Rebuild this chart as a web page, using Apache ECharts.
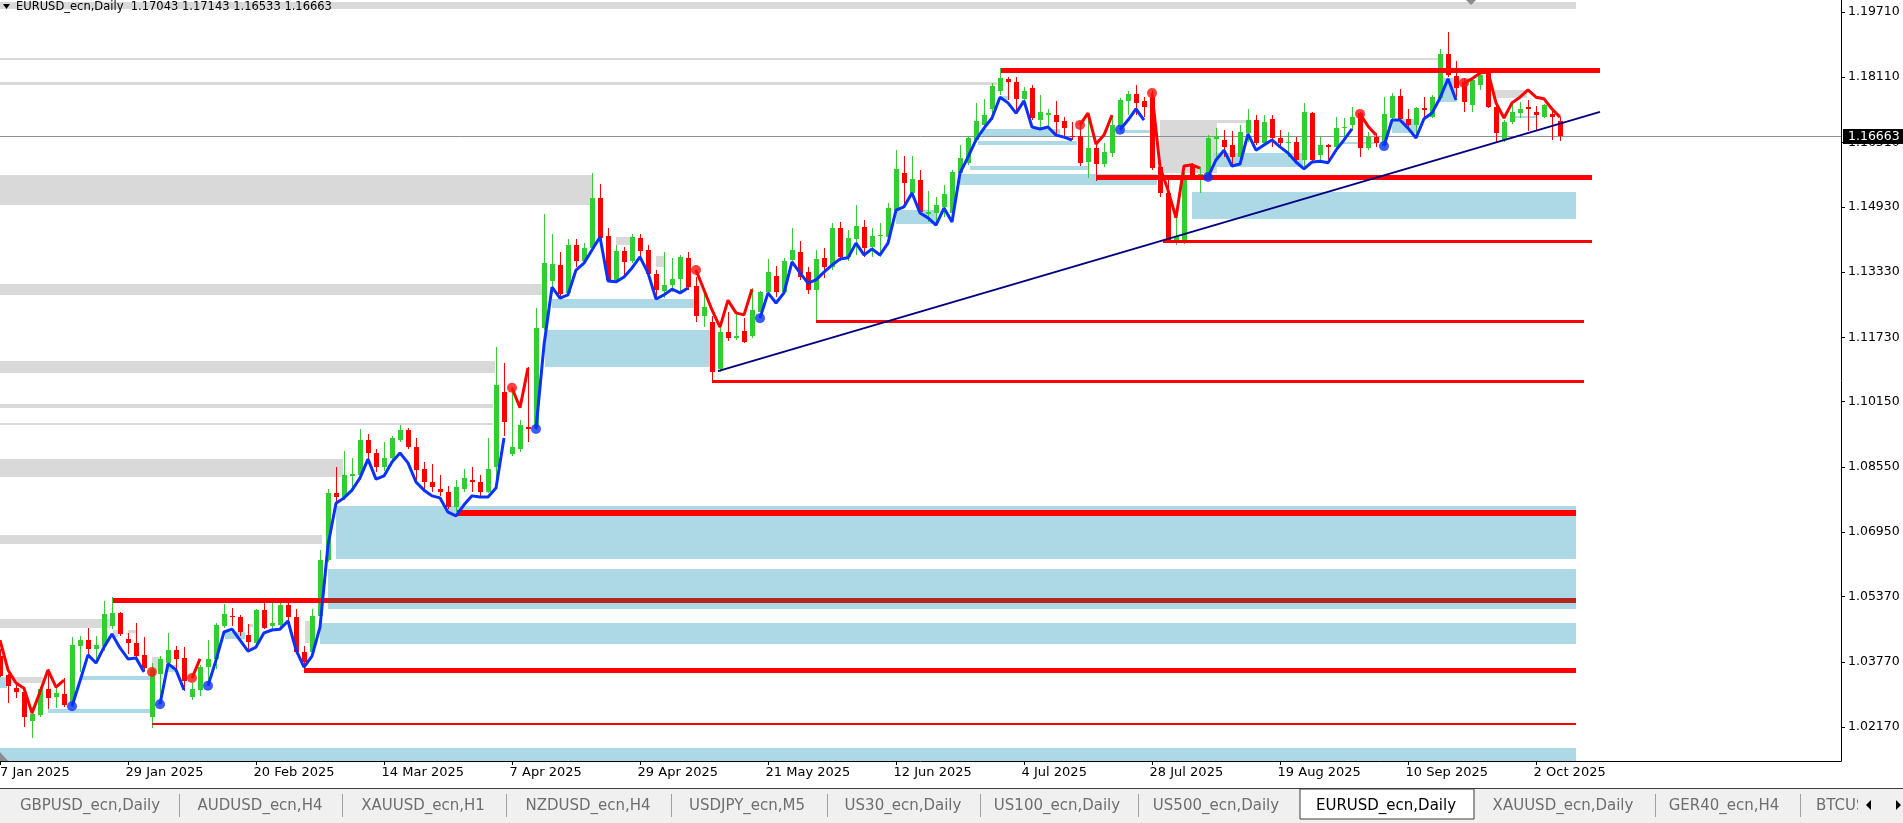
<!DOCTYPE html>
<html><head><meta charset="utf-8">
<script src="https://cdn.jsdelivr.net/npm/echarts@6/dist/echarts.min.js"></script>
<style>html,body{margin:0;padding:0;background:#fff;overflow:hidden}#chart{width:1903px;height:823px}</style>
</head><body><div id="chart"></div>
<script>
// ---------------- DATA ----------------
const symbolName = 'EURUSD_ecn,Daily';
const xTickLabels = ['7 Jan 2025','29 Jan 2025','20 Feb 2025','14 Mar 2025','7 Apr 2025','29 Apr 2025','21 May 2025','12 Jun 2025','4 Jul 2025','28 Jul 2025','19 Aug 2025','10 Sep 2025','2 Oct 2025'];
const xTickEvery = 16; // bars between date labels
const priceTicks = [1.02170,1.03770,1.05370,1.06950,1.08550,1.10150,1.11730,1.13330,1.14930,1.16510,1.18110,1.19710];

// daily candles [open, high, low, close], 7 Jan 2025 .. 7 Oct 2025
const candles = [
[1.0392,1.0408,1.0339,1.0343],[1.0344,1.0347,1.0277,1.0318],[1.0312,1.0326,1.0287,1.0302],[1.0302,1.0306,1.0216,1.0241],[1.0232,1.0265,1.0189,1.0249],
[1.0246,1.0314,1.0241,1.0310],[1.0310,1.0359,1.0261,1.0288],[1.0291,1.0318,1.0263,1.0300],[1.0298,1.0336,1.0265,1.0271],[1.0277,1.0438,1.0265,1.0418],
[1.0416,1.0440,1.0351,1.0430],[1.0430,1.0461,1.0392,1.0408],[1.0408,1.0440,1.0383,1.0418],[1.0416,1.0525,1.0404,1.0494],[1.0465,1.0537,1.0457,1.0496],
[1.0496,1.0500,1.0441,1.0445],[1.0432,1.0447,1.0396,1.0424],[1.0422,1.0471,1.0383,1.0391],[1.0393,1.0437,1.0355,1.0361],[1.0241,1.0375,1.0214,1.0359],
[1.0347,1.0391,1.0285,1.0383],[1.0375,1.0447,1.0359,1.0406],[1.0406,1.0416,1.0359,1.0383],[1.0386,1.0414,1.0306,1.0330],[1.0290,1.0326,1.0284,1.0310],
[1.0308,1.0369,1.0293,1.0363],[1.0363,1.0430,1.0326,1.0385],[1.0383,1.0473,1.0359,1.0467],[1.0465,1.0518,1.0461,1.0494],[1.0490,1.0510,1.0465,1.0486],
[1.0487,1.0491,1.0441,1.0449],[1.0442,1.0469,1.0408,1.0426],[1.0424,1.0507,1.0420,1.0503],[1.0503,1.0522,1.0457,1.0461],[1.0464,1.0533,1.0457,1.0472],
[1.0467,1.0523,1.0462,1.0516],[1.0516,1.0523,1.0477,1.0486],[1.0486,1.0507,1.0396,1.0401],[1.0401,1.0416,1.0360,1.0376],[1.0401,1.0507,1.0392,1.0489],
[1.0489,1.0651,1.0486,1.0627],[1.0627,1.0800,1.0622,1.0790],[1.0790,1.0856,1.0768,1.0780],[1.0780,1.0893,1.0775,1.0834],[1.0832,1.0878,1.0793,1.0837],
[1.0834,1.0949,1.0824,1.0922],[1.0920,1.0935,1.0873,1.0888],[1.0890,1.0900,1.0842,1.0854],[1.0854,1.0915,1.0844,1.0878],[1.0876,1.0932,1.0868,1.0925],
[1.0922,1.0959,1.0915,1.0946],[1.0946,1.0951,1.0898,1.0905],[1.0905,1.0927,1.0820,1.0847],[1.0851,1.0866,1.0800,1.0817],[1.0817,1.0861,1.0793,1.0805],
[1.0802,1.0834,1.0783,1.0793],[1.0793,1.0807,1.0751,1.0756],[1.0756,1.0824,1.0744,1.0805],[1.0800,1.0849,1.0793,1.0829],[1.0824,1.0856,1.0793,1.0817],
[1.0817,1.0834,1.0783,1.0793],[1.0793,1.0927,1.0791,1.0851],[1.0854,1.1150,1.0824,1.1055],[1.1038,1.1111,1.0930,1.0964],[1.0886,1.1045,1.0881,1.0903],
[1.0898,1.0971,1.0891,1.0959],[1.0954,1.1101,1.0915,1.0949],[1.0954,1.1246,1.0946,1.1197],[1.1197,1.1476,1.1192,1.1356],[1.1312,1.1427,1.1278,1.1354],
[1.1351,1.1383,1.1273,1.1280],[1.1282,1.1415,1.1278,1.1400],[1.1400,1.1413,1.1346,1.1361],[1.1361,1.1405,1.1356,1.1393],[1.1393,1.1576,1.1388,1.1515],
[1.1515,1.1549,1.1412,1.1417],[1.1422,1.1442,1.1309,1.1314],[1.1314,1.1400,1.1309,1.1385],[1.1385,1.1395,1.1322,1.1358],[1.1361,1.1427,1.1356,1.1420],
[1.1417,1.1427,1.1371,1.1385],[1.1388,1.1400,1.1322,1.1329],[1.1329,1.1339,1.1270,1.1290],[1.1287,1.1383,1.1270,1.1302],[1.1302,1.1368,1.1283,1.1317],
[1.1317,1.1375,1.1283,1.1371],[1.1368,1.1381,1.1290,1.1297],[1.1300,1.1322,1.1211,1.1226],[1.1224,1.1282,1.1199,1.1248],[1.1211,1.1226,1.1067,1.1089],
[1.1094,1.1204,1.1087,1.1187],[1.1187,1.1234,1.1165,1.1172],[1.1172,1.1229,1.1167,1.1177],[1.1189,1.1221,1.1159,1.1162],[1.1175,1.1294,1.1172,1.1240],
[1.1236,1.1287,1.1234,1.1285],[1.1283,1.1366,1.1278,1.1332],[1.1324,1.1349,1.1273,1.1283],[1.1283,1.1368,1.1278,1.1361],[1.1363,1.1442,1.1359,1.1388],
[1.1383,1.1410,1.1314,1.1322],[1.1332,1.1346,1.1280,1.1290],[1.1290,1.1388,1.1212,1.1366],[1.1368,1.1393,1.1319,1.1346],[1.1346,1.1454,1.1339,1.1442],
[1.1442,1.1457,1.1359,1.1371],[1.1371,1.1437,1.1359,1.1417],[1.1415,1.1498,1.1376,1.1447],[1.1444,1.1461,1.1371,1.1393],[1.1395,1.1442,1.1371,1.1422],
[1.1422,1.1454,1.1371,1.1425],[1.1420,1.1503,1.1417,1.1491],[1.1486,1.1633,1.1479,1.1586],[1.1576,1.1618,1.1493,1.1552],[1.1528,1.1618,1.1518,1.1562],
[1.1559,1.1583,1.1479,1.1481],[1.1476,1.1532,1.1457,1.1481],[1.1479,1.1518,1.1454,1.1498],[1.1493,1.1547,1.1469,1.1525],[1.1479,1.1583,1.1461,1.1579],
[1.1576,1.1645,1.1571,1.1613],[1.1601,1.1667,1.1596,1.1662],[1.1657,1.1748,1.1652,1.1704],[1.1694,1.1758,1.1689,1.1719],[1.1733,1.1797,1.1706,1.1790],
[1.1777,1.1834,1.1768,1.1809],[1.1807,1.1812,1.1755,1.1799],[1.1799,1.1812,1.1726,1.1758],[1.1758,1.1787,1.1743,1.1777],[1.1785,1.1792,1.1706,1.1711],
[1.1706,1.1768,1.1687,1.1726],[1.1719,1.1733,1.1687,1.1724],[1.1719,1.1753,1.1670,1.1701],[1.1704,1.1714,1.1665,1.1687],[1.1667,1.1701,1.1657,1.1664],
[1.1667,1.1694,1.1593,1.1601],[1.1603,1.1723,1.1564,1.1637],[1.1637,1.1650,1.1557,1.1598],[1.1598,1.1650,1.1591,1.1628],[1.1625,1.1719,1.1616,1.1694],
[1.1689,1.1760,1.1682,1.1755],[1.1753,1.1777,1.1719,1.1770],[1.1770,1.1792,1.1719,1.1748],[1.1753,1.1763,1.1714,1.1738],[1.1763,1.1780,1.1584,1.1589],
[1.1591,1.1596,1.1518,1.1527],[1.1527,1.1569,1.1405,1.1412],[1.1412,1.1493,1.1400,1.1422],[1.1412,1.1579,1.1402,1.1572],[1.1594,1.1601,1.1569,1.1572],
[1.1567,1.1591,1.1527,1.1574],[1.1572,1.1669,1.1567,1.1662],[1.1659,1.1687,1.1616,1.1667],[1.1657,1.1682,1.1616,1.1640],[1.1645,1.1679,1.1591,1.1616],
[1.1616,1.1694,1.1608,1.1677],[1.1674,1.1733,1.1652,1.1706],[1.1706,1.1719,1.1645,1.1650],[1.1650,1.1719,1.1645,1.1701],[1.1709,1.1719,1.1640,1.1662],
[1.1662,1.1682,1.1640,1.1650],[1.1650,1.1677,1.1616,1.1652],[1.1652,1.1665,1.1601,1.1608],[1.1608,1.1748,1.1589,1.1726],[1.1724,1.1726,1.1601,1.1608],
[1.1621,1.1667,1.1608,1.1645],[1.1645,1.1647,1.1608,1.1640],[1.1640,1.1714,1.1628,1.1687],[1.1687,1.1711,1.1657,1.1689],[1.1694,1.1738,1.1682,1.1714],
[1.1724,1.1726,1.1616,1.1637],[1.1637,1.1677,1.1633,1.1665],[1.1665,1.1674,1.1640,1.1650],[1.1645,1.1763,1.1640,1.1721],[1.1711,1.1772,1.1706,1.1765],
[1.1765,1.1782,1.1704,1.1709],[1.1709,1.1733,1.1682,1.1694],[1.1694,1.1738,1.1674,1.1736],[1.1736,1.1763,1.1709,1.1731],[1.1714,1.1768,1.1711,1.1763],
[1.1760,1.1880,1.1755,1.1868],[1.1868,1.1922,1.1812,1.1817],[1.1814,1.1851,1.1763,1.1785],[1.1799,1.1809,1.1726,1.1750],[1.1743,1.1809,1.1726,1.1804],
[1.1792,1.1824,1.1780,1.1817],[1.1822,1.1824,1.1736,1.1738],[1.1738,1.1743,1.1650,1.1674],[1.1657,1.1706,1.1652,1.1701],[1.1701,1.1750,1.1696,1.1726],
[1.1724,1.1750,1.1711,1.1733],[1.1738,1.1755,1.1679,1.1733],[1.1726,1.1740,1.1682,1.1719],[1.1714,1.1746,1.1711,1.1743],[1.1721,1.1731,1.1657,1.1714],
[1.17043,1.17143,1.16533,1.16663]
];

// trend indicator value per bar
const trendLine = [
1.0430,1.0357,1.0325,1.0312,1.0251,1.0303,1.0357,1.0315,1.0332,
1.0268,1.0330,1.0394,1.0374,1.0413,1.0445,1.0411,1.0384,1.0386,1.0352,
1.0352,
1.0273,1.0372,1.0357,1.0308,
1.0337,1.0384,
1.0318,1.0381,1.0450,1.0457,1.0430,1.0403,1.0413,1.0448,1.0455,1.0457,
1.0477,1.0406,1.0364,1.0391,1.0462,1.0663,1.0766,1.0779,1.0798,1.0828,
1.0874,1.0825,1.0833,1.0867,1.0889,1.0865,1.0818,1.0798,1.0784,1.0779,
1.0744,1.0735,1.0762,1.0784,1.0781,1.0781,1.0803,1.0926,
1.1049,1.1000,1.1098,
1.0948,1.1154,1.1296,1.1269,1.1277,1.1338,1.1355,1.1387,1.1419,1.1311,
1.1309,1.1321,1.1343,1.1370,1.1331,1.1267,1.1277,1.1291,1.1282,1.1294,
1.1338,1.1289,1.1240,1.1198,1.1264,1.1233,1.1228,1.1291,
1.1220,1.1282,1.1257,1.1282,1.1358,1.1331,1.1306,1.1314,1.1333,1.1350,
1.1365,1.1368,1.1404,1.1375,1.1390,1.1375,1.1404,1.1485,1.1493,1.1527,
1.1478,1.1466,1.1448,1.1490,1.1456,1.1576,1.1615,1.1657,1.1686,1.1711,
1.1762,1.1748,1.1723,1.1753,1.1689,1.1684,1.1689,1.1669,1.1664,1.1657,
1.1694,1.1723,1.1647,1.1669,1.1718,
1.1682,1.1706,1.1733,1.1706,
1.1772,1.1591,1.1534,1.1466,1.1593,1.1596,1.1588,
1.1566,1.1608,1.1632,1.1593,1.1598,1.1672,1.1632,1.1645,1.1657,1.1640,
1.1625,1.1603,1.1586,1.1603,1.1605,1.1601,1.1632,1.1657,1.1684,
1.1721,1.1691,1.1669,
1.1642,1.1706,1.1706,1.1686,1.1662,1.1709,1.1723,1.1760,1.1807,1.1755,
1.1797,1.1807,1.1821,1.1824,1.1748,1.1711,1.1748,1.1762,1.1780,1.1762,1.1758,1.1733,1.1713
];
// [first bar of run, direction] : 1 = up (blue), -1 = down (red)
const trendRuns = [[0,-1],[9,1],[19,-1],[20,1],[24,-1],[26,1],[64,-1],[67,1],[87,-1],[95,1],[135,-1],[140,1],[144,-1],[151,1],[170,-1],[173,1],[183,-1]];

// zones [fromBar, toBar, topPrice, bottomPrice]
const grayBands = [
[0,197,1.1996,1.1978],[0,180,1.1858,1.1853],[0,124.6,1.1799,1.1792],[0,74,1.1571,1.1498],[0,67.9,1.1304,1.1277],
[0,61.9,1.1115,1.1085],[0,61.6,1.1009,1.1000],[0,61.6,1.0963,1.0958],[0,42.9,1.0874,1.0830],[0,40.25,1.0688,1.0666],
[0,13.75,1.0482,1.0460],[0,5.4,1.0340,1.0325],[145,152.1,1.1706,1.1576],[152.1,155.9,1.1706,1.1699],[186.9,190.9,1.1780,1.1760],
[182.1,183.75,1.1809,1.1799],[77,79,1.1419,1.1399],[82,83,1.1372,1.1345],[14.1,14.75,1.0455,1.0438],[16,17.1,1.0455,1.0448],
[19,20,1.0389,1.0357],[31,31.6,1.0470,1.0462],[38.1,39,1.0477,1.0423]
];
const blueZones = [
[42,197,1.0760,1.0629],[41,197,1.0605,1.0506],[40,197,1.0472,1.0421],[0,197,1.0165,1.0133],[149,197,1.1529,1.1463],
[68.1,88.75,1.1191,1.1100],[69,86.9,1.1267,1.1245],[112,117.1,1.1485,1.1451],[120,144.6,1.1574,1.1547],[121.25,136,1.1593,1.1583],
[122.25,134.6,1.1655,1.1645],[122.75,132.5,1.1684,1.1667],[140,143.75,1.1682,1.1674],[151.6,162.9,1.1625,1.1591],[174,177.1,1.1709,1.1674],
[180,182.1,1.1809,1.1750],[10,18.75,1.0342,1.0332],[6,18.75,1.0261,1.0251],[21,22.1,1.0369,1.0352],[28.1,30.6,1.0450,1.0433],
[0,0.9,1.0340,1.0313],[125,126,1.1765,1.1755],[167.9,172.1,1.1652,1.1648],[188.75,192.1,1.1715,1.1711]
];
// horizontal levels [fromBar, toBar, price]
const majorLevels = [[125.1,200,1.1827],[137.1,199,1.1565],[14.1,41,1.0527],[38,197,1.0356]];
const wideLevels = [[57.1,197,1.0743]];
const mediumLevels = [[145.4,199,1.1409],[102,198,1.1211],[89,198,1.1065]];
const thinLevels = [[19,197,1.0224]];
const shadedLevels = [[41,197,1.0527]];
// support trend line [bar, price]
const supportLine = [[89.75,1.1090],[200,1.1726]];

const tabNames = ['GBPUSD_ecn,Daily','AUDUSD_ecn,H4','XAUUSD_ecn,H1','NZDUSD_ecn,H4','USDJPY_ecn,M5','US30_ecn,Daily','US100_ecn,Daily','US500_ecn,Daily','EURUSD_ecn,Daily','XAUUSD_ecn,Daily','GER40_ecn,H4','BTCUSD_ecn,H4'];
const activeTab = 'EURUSD_ecn,Daily';

// ---------------- LAYOUT ----------------
const W = 1903, H = 823;
const gridRight = 62, gridBottom = 62;
const barSpacing = 8;
const plotW = W - gridRight;
const yMax = 1.20004, yMin = 1.01336;
const tabCenters = [90,260,423,588,747,903,1057,1216,1386,1563,1724,null];
const tabSeps = [179,342,506,671,827,980,1138,1655,1800];
const FONT = '"DejaVu Sans", Tahoma, sans-serif';
const labelShift = 0.3; // date labels start slightly left of their tick (in bars)

const last = candles[candles.length - 1];
const lastClose = last[3];
const fmt = v => v.toFixed(5);

const dir = [];
trendRuns.forEach((r, k) => {
  const end = k + 1 < trendRuns.length ? trendRuns[k + 1][0] : trendLine.length;
  for (let i = r[0]; i < end; i++) dir[i] = r[1];
});
const upLine = trendLine.map((v, i) => [i, dir[i] === 1 ? v : '-']);
const dnLine = trendLine.map((v, i) => [i, dir[i] === -1 ? v : '-']);
const upDots = trendRuns.filter(r => r[0] > 0 && r[1] === 1).map(r => [r[0], trendLine[r[0]]]);
const dnDots = trendRuns.filter(r => r[0] > 0 && r[1] === -1).map(r => [r[0], trendLine[r[0]]]);

function clampRect(params, x1, y1, x2, y2) {
  const cs = params.coordSys;
  const L = Math.max(Math.min(x1, x2), cs.x), R = Math.min(Math.max(x1, x2), cs.x + cs.width);
  const T = Math.max(Math.min(y1, y2), cs.y), B = Math.min(Math.max(y1, y2), cs.y + cs.height);
  return { x: Math.round(L), y: Math.round(T), width: Math.max(0, Math.round(R) - Math.round(L)), height: Math.max(1, Math.round(B) - Math.round(T)) };
}
function zoneSeries(data, color, z) {
  return {
    type: 'custom', data, z, silent: true, encode: { x: [0, 1], y: [2, 3] },
    renderItem(params, api) {
      const p1 = api.coord([api.value(0), api.value(2)]);
      const p2 = api.coord([api.value(1), api.value(3)]);
      return { type: 'rect', shape: clampRect(params, p1[0], p1[1], p2[0], p2[1]), style: { fill: color } };
    }
  };
}
function levelSeries(data, color, width, z) {
  return {
    type: 'custom', data, z, silent: true, encode: { x: [0, 1], y: 2 },
    renderItem(params, api) {
      const p1 = api.coord([api.value(0), api.value(2)]);
      const p2 = api.coord([api.value(1), api.value(2)]);
      const y = Math.round(p1[1] - width / 2);
      return { type: 'rect', shape: { x: Math.round(p1[0]), y, width: Math.round(p2[0] - p1[0]), height: width }, style: { fill: color } };
    }
  };
}

const chart = echarts.init(document.getElementById('chart'), null, { renderer: 'canvas' });

const graphics = [
  { type: 'polygon', shape: { points: [[3, 4], [10, 4], [6.5, 9]] }, style: { fill: '#000' }, z: 100 },
  { type: 'text', x: 16, y: 1, z: 100, style: { text: symbolName + '  ' + last.map(fmt).join(' '), fontSize: 11.5, fontFamily: FONT, fill: '#000', verticalAlign: 'top' } },
  { type: 'polygon', shape: { points: [[1466, 0], [1476, 0], [1471, 5]] }, style: { fill: '#8c8c8c' }, z: 100 },
  { type: 'polygon', shape: { points: [[0, 752], [0, 761], [8, 761]] }, style: { fill: '#8c8c8c' }, z: 100 },
  { type: 'rect', shape: { x: 0, y: 788, width: W, height: 1 }, style: { fill: '#3c3c3c' }, z: 100 },
  { type: 'rect', shape: { x: 0, y: 789, width: W, height: 34 }, style: { fill: '#f0f0f0' }, z: 100 },
  { type: 'rect', shape: { x: 1300, y: 789, width: 174, height: 30 }, style: { fill: '#fff', stroke: '#3c3c3c', lineWidth: 1 }, z: 101 }
];
tabSeps.forEach(x => graphics.push({ type: 'rect', shape: { x, y: 794, width: 1, height: 23 }, style: { fill: '#a0a0a0' }, z: 101 }));
tabNames.forEach((name, k) => {
  const isActive = name === activeTab;
  if (tabCenters[k] === null) {
    graphics.push({ type: 'text', x: 1816, y: 806, z: 102, style: { text: name, fontSize: 15, fontFamily: FONT, fill: '#6e6e6e', align: 'left', verticalAlign: 'middle' } });
  } else {
    graphics.push({ type: 'text', x: tabCenters[k], y: 806, z: 102, style: { text: name, fontSize: 15, fontFamily: FONT, fill: isActive ? '#000' : '#6e6e6e', align: 'center', verticalAlign: 'middle' } });
  }
});
graphics.push({ type: 'rect', shape: { x: 1858, y: 790, width: 45, height: 33 }, style: { fill: '#f0f0f0' }, z: 103 });
graphics.push({ type: 'polygon', shape: { points: [[1871, 800], [1871, 810], [1866, 805]] }, style: { fill: '#000' }, z: 104 });
graphics.push({ type: 'polygon', shape: { points: [[1896, 800], [1896, 810], [1901, 805]] }, style: { fill: '#000' }, z: 104 });

const xTickIdx = xTickLabels.map((_, k) => k * xTickEvery);
const xLabelPos = xTickIdx.map(v => Math.max(0, v - labelShift));

chart.setOption({
  animation: false,
  backgroundColor: '#fff',
  grid: { left: 0, right: gridRight, top: 0, bottom: gridBottom, containLabel: false, outerBoundsMode: 'none' },
  xAxis: {
    type: 'value', min: 0, max: plotW / barSpacing,
    axisLine: { show: true, onZero: false, lineStyle: { color: '#000', width: 1 } },
    axisTick: { show: true, customValues: xTickIdx, length: 4, lineStyle: { color: '#000' } },
    axisLabel: { customValues: xLabelPos, formatter: v => xTickLabels[Math.round(v / xTickEvery)] || '', align: 'left', margin: 5, color: '#000', fontSize: 13, fontFamily: FONT, hideOverlap: false },
    splitLine: { show: false }
  },
  yAxis: {
    type: 'value', position: 'right', min: yMin, max: yMax,
    axisLine: { show: true, onZero: false, lineStyle: { color: '#000', width: 1 } },
    axisTick: { show: true, customValues: priceTicks, length: 4, lineStyle: { color: '#000' } },
    axisLabel: { customValues: priceTicks, formatter: v => fmt(v), margin: 7, color: '#000', fontSize: 12.5, fontFamily: FONT },
    splitLine: { show: false }
  },
  graphic: graphics,
  series: [
    zoneSeries(grayBands, '#d9d9d9', 1),
    zoneSeries(blueZones, '#add8e6', 1),
    {
      type: 'custom', z: 2, silent: true, clip: false,
      data: [[candles.length - 1, lastClose]], encode: { x: 0, y: 1 },
      renderItem(params, api) {
        const cs = params.coordSys;
        const y = Math.round(api.coord([api.value(0), api.value(1)])[1]) + 0.5;
        return { type: 'group', children: [
          { type: 'line', shape: { x1: cs.x, y1: y, x2: cs.x + cs.width, y2: y }, style: { stroke: '#8a8f99', lineWidth: 1 } },
          { type: 'rect', shape: { x: cs.x + cs.width + 2, y: Math.round(y - 7.5), width: 62, height: 15 }, style: { fill: '#000' } },
          { type: 'text', x: cs.x + cs.width + 7, y: y + 0.5, style: { text: fmt(api.value(1)), fill: '#fff', fontSize: 12.5, fontFamily: FONT, align: 'left', verticalAlign: 'middle' } }
        ] };
      }
    },
    {
      type: 'custom', z: 3, silent: true,
      data: candles.map((d, i) => [i, d[0], d[1], d[2], d[3]]),
      encode: { x: 0, y: [1, 2, 3, 4] },
      renderItem(params, api) {
        const i = api.value(0), o = api.value(1), h = api.value(2), l = api.value(3), c = api.value(4);
        const x = Math.round(api.coord([i, o])[0]);
        const yo = api.coord([i, o])[1], yc = api.coord([i, c])[1];
        const yh = Math.round(api.coord([i, h])[1]), yl = Math.round(api.coord([i, l])[1]);
        const color = c >= o ? '#32cd32' : '#ff0000';
        const top = Math.round(Math.min(yo, yc)), bot = Math.round(Math.max(yo, yc));
        return { type: 'group', children: [
          { type: 'rect', shape: { x: x, y: yh, width: 1, height: Math.max(1, yl - yh) }, style: { fill: color } },
          { type: 'rect', shape: { x: x - 2, y: top, width: 5, height: Math.max(1, bot - top) }, style: { fill: color } }
        ] };
      }
    },
    levelSeries(majorLevels, '#ff0000', 5, 4),
    levelSeries(wideLevels, '#ff0000', 6, 4),
    levelSeries(mediumLevels, '#ff0000', 3, 4),
    levelSeries(thinLevels, '#ff0000', 2, 4),
    levelSeries(shadedLevels, '#b2281e', 5, 4),
    { type: 'line', data: supportLine, symbol: 'none', z: 5, silent: true, lineStyle: { color: '#000080', width: 2 } },
    { type: 'line', data: upLine, symbol: 'none', connectNulls: false, z: 6, silent: true, lineStyle: { color: '#0a32ff', width: 3 } },
    { type: 'line', data: dnLine, symbol: 'none', connectNulls: false, z: 6, silent: true, lineStyle: { color: '#ff0000', width: 3 } },
    { type: 'scatter', data: upDots, symbol: 'circle', symbolSize: 10, z: 7, silent: true, itemStyle: { color: '#0a32ff' } },
    { type: 'scatter', data: dnDots, symbol: 'circle', symbolSize: 10, z: 7, silent: true, itemStyle: { color: '#ff1010' } }
  ]
});
</script></body></html>
